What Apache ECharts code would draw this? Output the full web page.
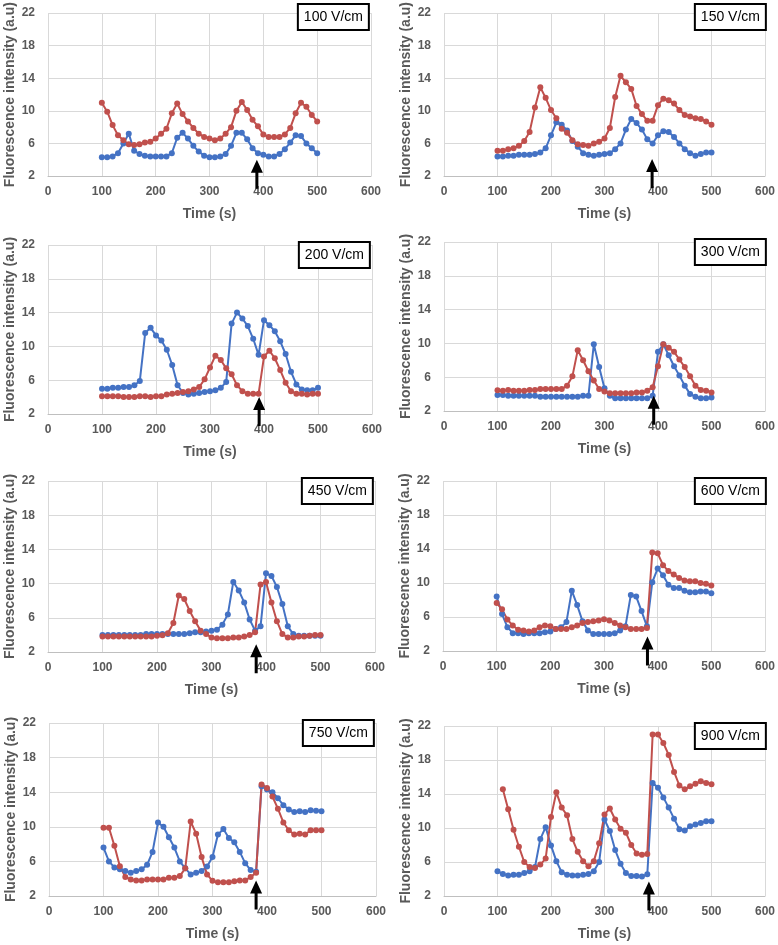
<!DOCTYPE html>
<html><head><meta charset="utf-8">
<script src="https://cdn.jsdelivr.net/npm/echarts@6/dist/echarts.min.js"></script>
<style>html,body{margin:0;padding:0;background:#fff}#c{width:778px;height:945px}</style>
</head><body><div id="c"></div>
<script>
// ---- data ----
const times = [100,110,120,130,140,150,160,170,180,190,200,210,220,230,240,250,260,270,280,290,300,310,320,330,340,350,360,370,380,390,400,410,420,430,440,450,460,470,480,490,500];
const panelLabels = ['100 V/cm','150 V/cm','200 V/cm','300 V/cm','450 V/cm','600 V/cm','750 V/cm','900 V/cm'];

const blue100 = [4.3,4.3,4.4,4.8,6.0,7.2,5.1,4.7,4.5,4.4, 4.4,4.4,4.4,4.8,6.7,7.3,6.6,5.7,5.0,4.5, 4.3,4.3,4.4,4.7,5.7,7.3,7.3,6.5,5.4,4.8, 4.6,4.4,4.4,4.7,5.3,6.1,7.0,6.9,6.0,5.4, 4.8];
const red100  = [11.0,9.9,8.25,7.0,6.4,5.9,5.8,5.9,6.1,6.2, 6.6,7.2,7.8,9.7,10.9,9.6,8.7,7.9,7.2,6.8, 6.6,6.4,6.6,7.2,8.0,10.0,11.1,10.1,8.9,8.1, 7.1,6.8,6.8,6.8,7.1,7.9,9.7,11.0,10.5,9.5, 8.7];

const blue150 = [4.4,4.4,4.5,4.5,4.6,4.6,4.6,4.7,4.9,5.4, 7.0,8.6,8.3,7.6,6.3,5.6,4.8,4.6,4.5,4.6, 4.7,4.8,5.3,6.0,7.7,9.0,8.5,7.7,6.5,6.0, 7.0,7.5,7.4,6.8,6.0,5.3,4.8,4.5,4.7,4.9, 4.9];
const red150  = [5.1,5.1,5.3,5.4,5.7,6.3,7.4,10.4,12.9,11.6, 10.1,9.1,7.8,7.3,6.4,5.9,5.8,5.7,6.0,6.2, 6.6,7.9,11.7,14.3,13.5,12.7,10.6,9.6,8.8,8.8, 10.7,11.5,11.3,10.9,10.1,9.5,9.3,9.1,9.0,8.7, 8.3];

const blue200 = [5.0,5.0,5.1,5.1,5.2,5.2,5.4,5.9,11.6,12.2, 11.3,10.7,9.6,7.8,5.4,4.5,4.3,4.4,4.5,4.6, 4.7,4.8,5.1,5.8,12.7,14.0,13.3,12.4,10.9,9.0, 13.1,12.5,11.8,10.6,9.1,7.0,5.5,4.9,4.8,4.8, 5.1];
const red200  = [4.1,4.1,4.1,4.1,4.0,4.0,4.0,4.1,4.1,4.0, 4.1,4.1,4.3,4.4,4.5,4.6,4.7,4.9,5.2,6.1, 7.5,8.9,8.4,7.4,6.7,5.4,4.7,4.4,4.4,4.4, 8.8,9.5,8.6,7.2,5.7,4.7,4.4,4.4,4.3,4.4, 4.4];

const blue300 = [3.9,3.9,3.8,3.8,3.8,3.8,3.8,3.8,3.7,3.7, 3.7,3.7,3.7,3.7,3.7,3.7,3.8,3.8,9.9,7.2, 4.7,3.8,3.5,3.5,3.5,3.5,3.5,3.5,3.5,3.8, 9.0,9.9,8.6,7.3,6.2,5.0,4.0,3.7,3.5,3.5, 3.6];
const red300  = [4.45,4.4,4.5,4.4,4.4,4.4,4.5,4.5,4.6,4.6, 4.6,4.6,4.6,5.0,6.1,9.2,8.0,6.7,5.6,4.6, 4.3,4.1,4.1,4.1,4.1,4.1,4.2,4.2,4.4,4.8, 7.3,9.9,9.5,9.0,8.1,7.2,6.1,5.0,4.5,4.4, 4.2];

const blue450 = [4.0,4.0,4.0,4.0,4.0,4.0,4.0,4.0,4.1,4.1, 4.1,4.1,4.1,4.1,4.1,4.1,4.2,4.3,4.3,4.4, 4.5,4.6,5.2,6.4,10.2,9.2,7.8,5.8,4.5,5.0, 11.2,10.9,9.6,7.6,5.0,4.1,3.9,3.9,3.9,3.9, 3.9];
const red450  = [3.8,3.8,3.8,3.8,3.8,3.8,3.8,3.8,3.8,3.8, 3.9,3.95,4.2,5.4,8.6,8.2,6.8,5.6,4.5,4.1, 3.7,3.6,3.6,3.6,3.7,3.7,3.8,4.0,4.3,9.9, 10.2,7.8,5.6,4.1,3.7,3.7,3.8,3.8,3.9,4.0, 4.0];

const blue600 = [8.4,6.35,4.8,4.1,4.1,4.0,4.1,4.1,4.1,4.2, 4.3,4.6,4.8,5.4,9.1,7.4,5.5,4.4,4.0,4.0, 4.0,4.0,4.1,4.4,4.9,8.6,8.4,6.7,4.9,10.1, 11.7,10.9,9.8,9.4,9.4,9.1,8.9,8.9,9.0,9.0, 8.8];
const red600  = [7.65,6.9,5.7,5.0,4.5,4.4,4.3,4.4,4.8,5.0, 4.9,4.6,4.6,4.6,4.8,5.0,5.3,5.4,5.5,5.6, 5.75,5.6,5.3,5.0,4.8,4.6,4.6,4.6,4.7,13.6, 13.5,12.1,11.4,11.0,10.6,10.3,10.2,10.2,10.0,9.9, 9.7];

const blue750 = [7.6,6.0,5.3,5.1,4.9,4.7,4.9,5.1,5.6,7.1, 10.5,10.0,8.8,7.6,6.0,5.2,4.5,4.7,4.9,5.4, 6.5,9.1,9.75,8.7,8.2,7.1,5.8,5.0,4.8,14.7, 14.3,14.0,13.3,12.5,12.0,11.7,11.8,11.7,11.9,11.85, 11.8];
const red750  = [9.9,9.9,7.8,5.45,4.2,3.9,3.8,3.8,3.9,3.9, 3.9,3.9,4.1,4.1,4.3,5.2,10.6,9.2,6.5,4.5, 3.75,3.6,3.6,3.6,3.7,3.8,3.8,4.2,4.7,14.9, 14.5,13.5,12.1,10.5,9.6,9.1,9.2,9.1,9.6,9.6, 9.6];

const blue900 = [4.9,4.6,4.4,4.5,4.5,4.7,4.9,5.4,8.7,10.1, 7.95,6.1,4.8,4.5,4.4,4.4,4.5,4.6,4.9,6.0, 11.0,9.65,7.4,5.8,4.7,4.35,4.35,4.3,4.55,15.3, 14.75,13.6,12.4,11.1,9.85,9.7,10.2,10.4,10.6,10.8, 10.8];
const red900  = [null,14.55,12.2,9.8,7.8,6.0,5.4,5.3,5.7,6.4, 11.3,14.2,12.4,11.5,8.7,7.2,6.1,5.5,6.1,8.2, 11.6,12.3,11.0,9.9,9.45,8.0,7.0,6.85,6.95,21.0, 21.0,20.0,18.6,16.6,15.0,14.55,14.9,15.2,15.5,15.3, 15.15];

const blueSets = [blue100, blue150, blue200, blue300, blue450, blue600, blue750, blue900];
const redSets  = [red100, red150, red200, red300, red450, red600, red750, red900];

// arrow annotations: time (s) and intensity level of the arrow tip
const arrowTimes  = [388, 389, 391, 392, 382, 381, 380, 383];
const arrowLevels = [4.0, 4.1, 4.0, 3.8, 2.9, 3.7, 3.8, 3.7];

// axis ticks
const xMin = 0, xMax = 600, xStep = 100;
const yMin = 2, yMax = 22, yStep = 4;
const xTitle = 'Time (s)';
const yTitle = 'Fluorescence intensity (a.u)';

// ---- layout ----
const grids = [
  {left: 48,  top: 7,   width: 323, height: 169},
  {left: 444, top: 7,   width: 324, height: 169},
  {left: 48,  top: 245, width: 324, height: 169},
  {left: 444, top: 242, width: 324, height: 169},
  {left: 48,  top: 481, width: 327, height: 171},
  {left: 443, top: 481, width: 325, height: 170},
  {left: 49,  top: 723, width: 327, height: 173},
  {left: 444, top: 726, width: 324, height: 170}
];
const W = 778;
const FONT = '"Liberation Sans", Arial, sans-serif';
const GRAY = '#595959';
const BLUE = '#4472C4';
const RED = '#C0504D';

const option = {
  animation: false,
  backgroundColor: '#fff',
  grid: grids.map(g => ({left: g.left, top: g.top, width: g.width, height: g.height, containLabel: false})),
  title: grids.map((g, i) => ({
    text: panelLabels[i],
    right: W - (g.left + g.width) + 2,
    top: g.top - 3,
    padding: [6, 6, 5, 6],
    borderWidth: 2,
    borderColor: '#000',
    backgroundColor: '#fff',
    textStyle: {fontFamily: FONT, fontSize: 14, fontWeight: 'normal', color: '#000', lineHeight: 15}
  })),
  xAxis: grids.map((g, i) => ({
    type: 'value', gridIndex: i, min: xMin, max: xMax, interval: xStep,
    axisLine: {show: true, lineStyle: {color: '#bfbfbf', width: 1}},
    axisTick: {show: false},
    splitLine: {show: true, lineStyle: {color: '#d9d9d9', width: 1}},
    axisLabel: {fontFamily: FONT, fontSize: 12, fontWeight: 'bold', color: GRAY, margin: 10},
    name: xTitle, nameLocation: 'middle', nameGap: 31,
    nameTextStyle: {fontFamily: FONT, fontSize: 14, fontWeight: 'bold', color: GRAY}
  })),
  yAxis: grids.map((g, i) => ({
    type: 'value', gridIndex: i, min: yMin, max: yMax, interval: yStep,
    axisLine: {show: false},
    axisTick: {show: false},
    splitLine: {show: true, lineStyle: {color: '#d9d9d9', width: 1}},
    axisLabel: {fontFamily: FONT, fontSize: 12, fontWeight: 'bold', color: GRAY, margin: 13},
    name: yTitle, nameLocation: 'middle', nameGap: 31,
    nameTextStyle: {fontFamily: FONT, fontSize: 14, fontWeight: 'bold', color: GRAY}
  })),
  series: []
};

function pairs(vals) {
  const out = [];
  vals.forEach((v, k) => { if (v !== null) out.push([times[k], v]); });
  return out;
}

for (let i = 0; i < 8; i++) {
  [[blueSets[i], BLUE], [redSets[i], RED]].forEach(([vals, col]) => {
    option.series.push({
      type: 'line', xAxisIndex: i, yAxisIndex: i,
      data: pairs(vals),
      symbol: 'circle', symbolSize: 6,
      lineStyle: {color: col, width: 2},
      itemStyle: {color: col},
      silent: true
    });
  });
  option.series.push({
    type: 'custom', xAxisIndex: i, yAxisIndex: i,
    data: [[arrowTimes[i], arrowLevels[i]]],
    clip: false, silent: true, z: 5,
    renderItem: function (params, api) {
      const p = api.coord([api.value(0), api.value(1)]);
      const x = p[0], y = p[1];
      return {
        type: 'polygon',
        shape: {points: [[x, y], [x - 6, y + 13], [x - 1.5, y + 13], [x - 1.5, y + 29], [x + 1.5, y + 29], [x + 1.5, y + 13], [x + 6, y + 13]]},
        style: {fill: '#000'}
      };
    }
  });
}

const chart = echarts.init(document.getElementById('c'), null, {renderer: 'canvas'});
chart.setOption(option);
</script>
</body></html>
